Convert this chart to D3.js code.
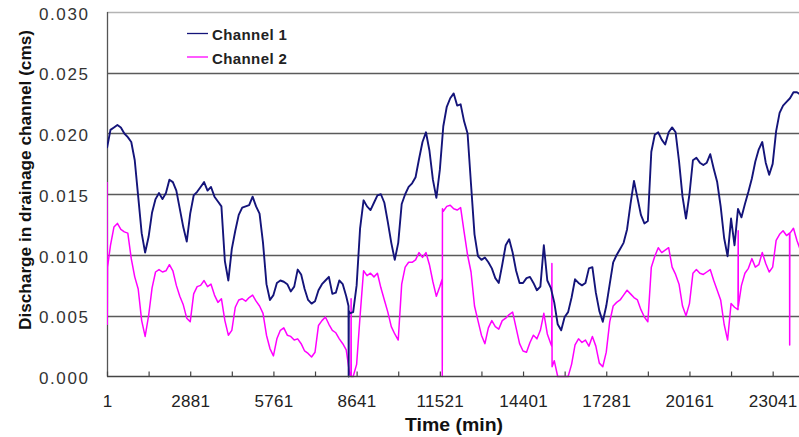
<!DOCTYPE html>
<html>
<head>
<meta charset="utf-8">
<script src="https://cdn.jsdelivr.net/npm/d3@7"></script>
<style>
  html, body { margin: 0; padding: 0; background: #fff; }
  svg { display: block; }
</style>
</head>
<body>
<svg id="chart" width="799" height="437"></svg>
<script>
// ---- data ----
const startMinute = 1;
const sampleStep = 120; // minutes between readings
const ch1 = [
0.0188,0.0203,0.0205,0.0207,0.0205,0.0200,0.0197,0.0193,0.0178,0.0148,
0.0118,0.0102,0.0115,0.0135,0.0146,0.0151,0.0146,0.0151,0.0162,0.0160,
0.0153,0.0138,0.0123,0.0111,0.0134,0.0149,0.0152,0.0156,0.0160,0.0153,
0.0156,0.0148,0.0144,0.0140,0.0095,0.0079,0.0105,0.0120,0.0133,0.0139,
0.0140,0.0141,0.0148,0.0140,0.0134,0.0110,0.0076,0.0063,0.0067,0.0077,
0.0079,0.0078,0.0076,0.0070,0.0074,0.0088,0.0084,0.0072,0.0063,0.0060,
0.0062,0.0071,0.0076,0.0079,0.0082,0.0068,0.0069,0.0079,0.0076,0.0066,
0.0052,0.0053,0.0075,0.0122,0.0145,0.0140,0.0137,0.0143,0.0149,0.0150,
0.0143,0.0127,0.0110,0.0096,0.0110,0.0142,0.0150,0.0156,0.0159,0.0164,
0.0179,0.0193,0.0201,0.0186,0.0162,0.0147,0.0170,0.0206,0.0222,0.0229,
0.0233,0.0223,0.0224,0.0210,0.0200,0.0158,0.0117,0.0099,0.0096,0.0098,
0.0094,0.0089,0.0081,0.0077,0.0092,0.0108,0.0113,0.0102,0.0087,0.0077,
0.0077,0.0081,0.0082,0.0077,0.0071,0.0074,0.0108,0.0079,0.0073,0.0061,
0.0043,0.0038,0.0049,0.0053,0.0065,0.0080,0.0077,0.0075,0.0077,0.0089,
0.0090,0.0069,0.0054,0.0045,0.0058,0.0076,0.0094,0.0100,0.0105,0.0110,
0.0121,0.0142,0.0161,0.0147,0.0133,0.0126,0.0128,0.0185,0.0199,0.0201,
0.0195,0.0191,0.0201,0.0205,0.0201,0.0177,0.0148,0.0130,0.0150,0.0178,
0.0180,0.0176,0.0174,0.0176,0.0183,0.0171,0.0160,0.0140,0.0114,0.0099,
0.0130,0.0108,0.0138,0.0131,0.0142,0.0152,0.0163,0.0177,0.0187,0.0193,
0.0176,0.0166,0.0175,0.0202,0.0217,0.0223,0.0226,0.0229,0.0234,0.0234,
0.0232
];
const ch2 = [
0.0160,0.0108,0.0123,0.0126,0.0121,0.0119,0.0118,0.0097,0.0082,0.0072,
0.0046,0.0033,0.0050,0.0073,0.0086,0.0088,0.0086,0.0087,0.0092,0.0087,
0.0075,0.0066,0.0059,0.0048,0.0045,0.0068,0.0074,0.0075,0.0079,0.0074,
0.0076,0.0067,0.0061,0.0064,0.0046,0.0034,0.0038,0.0057,0.0063,0.0064,
0.0062,0.0065,0.0067,0.0062,0.0058,0.0052,0.0034,0.0023,0.0017,0.0031,
0.0038,0.0040,0.0034,0.0033,0.0030,0.0031,0.0027,0.0021,0.0019,0.0016,
0.0020,0.0042,0.0046,0.0049,0.0043,0.0038,0.0036,0.0031,0.0027,0.0022,
0.0002,0.0000,0.0010,0.0050,0.0087,0.0083,0.0085,0.0082,0.0085,0.0073,
0.0063,0.0053,0.0041,0.0035,0.0030,0.0076,0.0090,0.0094,0.0094,0.0096,
0.0102,0.0098,0.0102,0.0092,0.0078,0.0066,0.0074,0.0136,0.0140,0.0141,
0.0138,0.0137,0.0139,0.0119,0.0100,0.0086,0.0058,0.0046,0.0034,0.0027,
0.0040,0.0046,0.0041,0.0039,0.0046,0.0048,0.0051,0.0053,0.0040,0.0027,
0.0021,0.0020,0.0028,0.0034,0.0031,0.0038,0.0052,0.0035,0.0027,0.0013,
0.0000,0.0000,0.0000,0.0000,0.0010,0.0026,0.0031,0.0028,0.0030,0.0025,
0.0033,0.0025,0.0011,0.0008,0.0020,0.0045,0.0058,0.0061,0.0063,0.0067,
0.0071,0.0068,0.0065,0.0063,0.0055,0.0049,0.0045,0.0090,0.0099,0.0106,
0.0102,0.0104,0.0106,0.0090,0.0084,0.0076,0.0058,0.0050,0.0060,0.0085,
0.0088,0.0085,0.0084,0.0086,0.0088,0.0079,0.0071,0.0063,0.0043,0.0030,
0.0060,0.0057,0.0055,0.0075,0.0085,0.0089,0.0097,0.0090,0.0092,0.0102,
0.0093,0.0086,0.0090,0.0112,0.0117,0.0120,0.0116,0.0118,0.0122,0.0112,
0.0104
];
// short spikes between readings: [minute, value]
const ch1Spikes = [[8360,0.0058],[8365,0.0000],[8372,0.0054]];
const ch2Spikes = [[10,0.0043],[20,0.0090],[8445,0.0000],[8450,0.0064],[8455,0.0000],
  [11600,0.0080],[11606,0.0000],[11612,0.0138],[15395,0.0025],[15400,0.0093],[15406,0.0008],
  [21848,0.0120],[21853,0.0058],[23625,0.0118],[23630,0.0026],[23636,0.0118]];
const seriesNames = ["Channel 1","Channel 2"];
const seriesColors = ["#14147a","#ff00ff"];
const yTicks = [0,0.005,0.010,0.015,0.020,0.025,0.030];
const xTickMarks = d3.range(1, 23042, 1440);
const xTickLabels = ["1","2881","5761","8641","11521","14401","17281","20161","23041"];
const yTitle = "Discharge in drainage channel (cms)";
const xTitle = "Time (min)";

// ---- chart ----
(function draw() {
const svg = d3.select("#chart");
const pL = 107, pR = 799, pT = 12, pB = 376.5;
const x = d3.scaleLinear().domain([1, 24001]).range([pL, 800.4]);
const y = d3.scaleLinear().domain([0, 0.03]).range([pB, pT]);
const FONT = "'Liberation Sans', Arial, sans-serif";

svg.append("rect").attr("width",799).attr("height",437).attr("fill","#fff");

// gridlines
svg.append("g").selectAll("line").data(yTicks.slice(1)).join("line")
  .attr("x1", pL).attr("x2", pR)
  .attr("y1", d => Math.round(y(d)) + 0.5).attr("y2", d => Math.round(y(d)) + 0.5)
  .attr("stroke", d => d === 0.030 ? "#b4b4b4" : "#5a5a5a")
  .attr("stroke-width", d => d === 0.030 ? 1.6 : 1.3);

// y axis labels
const yAxis = d3.axisLeft(y).tickValues(yTicks).tickSize(0).tickPadding(0)
  .tickFormat(d3.format(".3f"));
const gy = svg.append("g").attr("transform", `translate(${pL - 17.5},0)`).call(yAxis);
gy.select(".domain").remove();
gy.selectAll("text").attr("font-family", FONT).attr("font-size", 17)
  .attr("letter-spacing", "1.6px").attr("fill", "#333").attr("dy", "0.42em");

// y axis line
svg.append("line").attr("x1", pL + 0.5).attr("x2", pL + 0.5)
  .attr("y1", pT).attr("y2", pB).attr("stroke", "#555").attr("stroke-width", 1.3);

// x axis: tick marks (inward)
const xMarks = d3.axisBottom(x).tickValues(xTickMarks).tickSizeInner(-5).tickSizeOuter(0).tickFormat("");
const gxm = svg.append("g").attr("transform", `translate(0,${pB})`).call(xMarks);
gxm.select(".domain").remove();
gxm.selectAll("line").attr("stroke", "#444").attr("stroke-width", 1.2);

// x labels
const xLab = d3.axisBottom(x).tickValues(xTickLabels.map(Number)).tickSize(0).tickPadding(0)
  .tickFormat((d, i) => xTickLabels[i]);
const gxl = svg.append("g").attr("transform", `translate(0,${pB})`).call(xLab);
gxl.select(".domain").remove();
gxl.selectAll("text").attr("font-family", FONT).attr("font-size", 17)
  .attr("letter-spacing", "0.3px").attr("fill", "#222").attr("dy", null).attr("y", 30);

// clip
svg.append("clipPath").attr("id","plotclip").append("rect")
  .attr("x", pL).attr("y", 0).attr("width", pR - pL + 1).attr("height", pB + 2);

const toPoints = (vals, spikes) => vals.map((v, i) => [startMinute + sampleStep * i, v])
  .concat(spikes).sort((a, b) => a[0] - b[0]);
const line = d3.line().x(d => x(d[0])).y(d => y(d[1]));

const gLines = svg.append("g").attr("clip-path", "url(#plotclip)");
gLines.append("path").datum(toPoints(ch2, ch2Spikes))
  .attr("d", line).attr("fill", "none").attr("stroke", seriesColors[1])
  .attr("stroke-width", 1.5).attr("stroke-linejoin", "round");
gLines.append("path").datum(toPoints(ch1, ch1Spikes))
  .attr("d", line).attr("fill", "none").attr("stroke", seriesColors[0])
  .attr("stroke-width", 1.9).attr("stroke-linejoin", "round");

// bottom axis line
svg.append("line").attr("x1", pL).attr("x2", pR)
  .attr("y1", pB).attr("y2", pB).attr("stroke", "#444").attr("stroke-width", 1.3);

// legend
const legY = [33.5, 57];
seriesNames.forEach((n, i) => {
  svg.append("line").attr("x1", 187).attr("x2", 208).attr("y1", legY[i]).attr("y2", legY[i])
    .attr("stroke", seriesColors[i]).attr("stroke-width", 1.3);
  svg.append("text").attr("x", 212).attr("y", legY[i] + 6.5)
    .attr("font-family", FONT).attr("font-size", 15).attr("font-weight", "bold")
    .attr("letter-spacing", "0.4px").attr("fill", "#222").text(n);
});

// titles
svg.append("text").attr("transform", "translate(31,180) rotate(-90)")
  .attr("text-anchor", "middle").attr("font-family", FONT).attr("font-size", 16)
  .attr("font-weight", "bold").attr("fill", "#111")
  .attr("textLength", 300).attr("lengthAdjust", "spacingAndGlyphs").text(yTitle);
svg.append("text").attr("x", 454).attr("y", 431)
  .attr("text-anchor", "middle").attr("font-family", FONT).attr("font-size", 18)
  .attr("font-weight", "bold").attr("fill", "#111")
  .attr("textLength", 98).attr("lengthAdjust", "spacingAndGlyphs").text(xTitle);
})();
</script>
</body>
</html>
